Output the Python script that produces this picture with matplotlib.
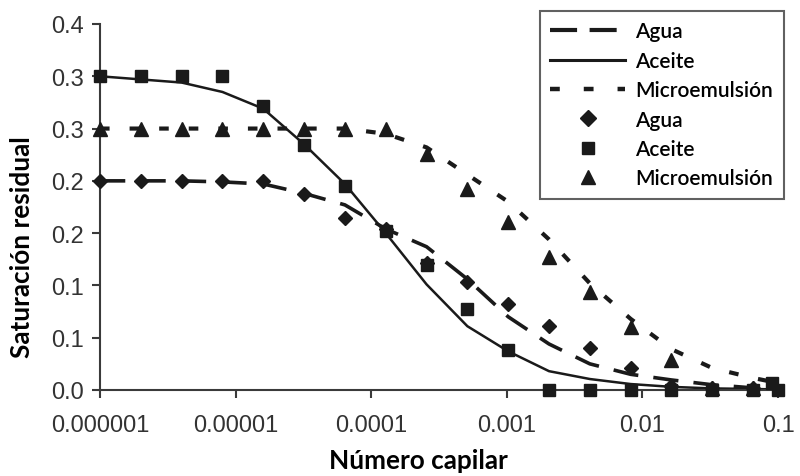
import matplotlib
matplotlib.use("Agg")
import matplotlib.pyplot as plt
from matplotlib.lines import Line2D

# ---------------- data ----------------
capilar = [1e-6, 2e-6, 4e-6, 8e-6, 1.6e-5, 3.2e-5, 6.4e-5, 1.28e-4, 2.56e-4,
           5.12e-4, 1.024e-3, 2.048e-3, 4.096e-3, 8.192e-3, 1.6384e-2,
           3.2768e-2, 6.5536e-2]

# measured points
agua_pts = [0.200, 0.200, 0.200, 0.200, 0.200, 0.187, 0.164, 0.154, 0.121,
            0.103, 0.082, 0.061, 0.040, 0.021, 0.004, 0.002, 0.002]
aceite_pts = [0.300, 0.300, 0.300, 0.300, 0.2715, 0.234, 0.1955, 0.152, 0.1195,
              0.0774, 0.038, 0.0, 0.0, 0.0, 0.0, 0.0, 0.0]
micro_pts = [0.250, 0.250, 0.250, 0.250, 0.250, 0.250, 0.250, 0.250, 0.2256,
             0.192, 0.1606, 0.127, 0.094, 0.0607, 0.0287, 0.002, 0.002]
aceite_extra_x = [0.09, 0.1]
aceite_extra_y = [0.007, 0.0]

# fitted curves
curve_x = capilar + [0.1]
agua_fit = [0.200, 0.200, 0.200, 0.199, 0.197, 0.188, 0.177, 0.154, 0.137,
            0.106, 0.070, 0.044, 0.025, 0.015, 0.0096, 0.005, 0.002, 0.001]
aceite_fit = [0.300, 0.297, 0.294, 0.285, 0.269, 0.235, 0.197, 0.150, 0.101,
              0.061, 0.037, 0.018, 0.0105, 0.0057, 0.003, 0.0015, 0.001, 0.0005]
micro_fit = [0.250, 0.250, 0.250, 0.250, 0.250, 0.250, 0.250, 0.245, 0.232,
             0.206, 0.180, 0.144, 0.102, 0.068, 0.039, 0.021, 0.0115, 0.0067]

xticks = [1e-6, 1e-5, 1e-4, 1e-3, 1e-2, 1e-1]
xtick_labels = ["0.000001", "0.00001", "0.0001", "0.001", "0.01", "0.1"]
yticks = [0.0, 0.05, 0.10, 0.15, 0.20, 0.25, 0.30, 0.35]
ytick_labels = ["0.0", "0.1", "0.1", "0.2", "0.2", "0.3", "0.3", "0.4"]

legend_names = ["Agua", "Aceite", "Microemulsión"]

# ---------------- figure ----------------
ink = "#1a1a1a"
fig = plt.figure(figsize=(8.0, 4.77), dpi=100)
ax = fig.add_axes([0.125, 0.1803, 0.8475, 0.7673])

ax.plot(curve_x, agua_fit, color=ink, lw=2.6, linestyle=(0, (7, 4.2)), zorder=2)
ax.plot(curve_x, aceite_fit, color=ink, lw=1.8, linestyle="-", zorder=2)
ax.plot(curve_x, micro_fit, color=ink, lw=3.0, linestyle=(0, (2.3, 4.8)), zorder=2)

ax.plot(capilar, agua_pts, linestyle="none", marker="D", ms=7.5, color=ink,
        zorder=3, clip_on=False)
ax.plot(capilar + aceite_extra_x, aceite_pts + aceite_extra_y, linestyle="none",
        marker="s", ms=8.5, color=ink, zorder=3, clip_on=False)
ax.plot(capilar, micro_pts, linestyle="none", marker="^", ms=9.5, color=ink,
        zorder=3, clip_on=False)

ax.set_xscale("log")
ax.set_xlim(1e-6, 0.1)
ax.set_ylim(0, 0.35)
ax.xaxis.set_major_locator(matplotlib.ticker.FixedLocator(xticks))
ax.xaxis.set_major_formatter(matplotlib.ticker.FixedFormatter(xtick_labels))
ax.xaxis.set_minor_locator(matplotlib.ticker.NullLocator())
ax.set_yticks(yticks)
ax.set_yticklabels(ytick_labels)

for s in ["top", "right"]:
    ax.spines[s].set_visible(False)
for s in ["left", "bottom"]:
    ax.spines[s].set_color("#3a3a3a")
    ax.spines[s].set_linewidth(1.5)
ax.tick_params(axis="both", direction="out", length=5.5, width=1.5,
               color="#3a3a3a", labelsize=17, labelcolor="#333333",
               labelfontfamily="Liberation Sans")
ax.tick_params(axis="x", pad=12)
ax.tick_params(axis="y", pad=6)

ax.set_xlabel("Número capilar", fontsize=18.8, fontweight="bold",
              family="Lato", color="black")
ax.set_ylabel("Saturación residual", fontsize=18.8, fontweight="bold",
              family="Lato", color="black")
ax.xaxis.set_label_coords((418.5 - 100) / 678, -(461 - 391) / 366)
ax.yaxis.set_label_coords(-(100 - 22.5) / 678, (391 - 247.5) / 366)
ax.xaxis.label.set_va("center")
ax.yaxis.label.set_va("center")

handles = [
    Line2D([], [], color=ink, lw=3.0, linestyle=(0, (6.5, 3))),
    Line2D([], [], color=ink, lw=2.2, linestyle="-"),
    Line2D([], [], color=ink, lw=3.2, linestyle=(0, (2.2, 5.4))),
    Line2D([], [], color=ink, linestyle="none", marker="D", ms=8),
    Line2D([], [], color=ink, linestyle="none", marker="s", ms=8.5),
    Line2D([], [], color=ink, linestyle="none", marker="^", ms=10),
]
leg = fig.legend(handles, legend_names + legend_names,
                 loc="upper left", bbox_to_anchor=(540 / 800, 1 - 12 / 477),
                 bbox_transform=fig.transFigure,
                 prop={"family": "Lato", "weight": "semibold", "size": 15},
                 frameon=True, fancybox=False, edgecolor="#3a3a3a",
                 handlelength=3.6, handletextpad=0.48, labelspacing=0.45,
                 borderpad=0.5, borderaxespad=0)
leg.get_frame().set_linewidth(1.5)

fig.savefig("out.png", dpi=100)
